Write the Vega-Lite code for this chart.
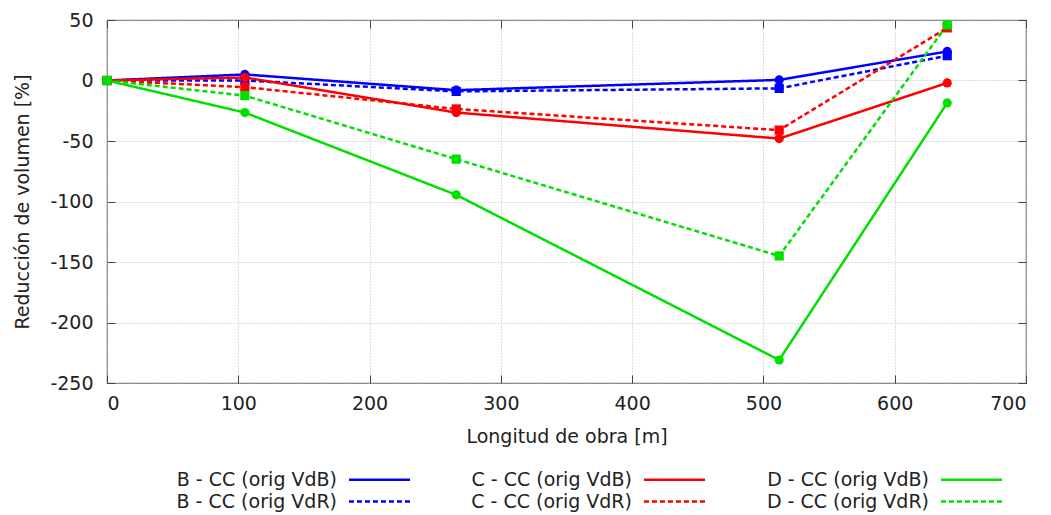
{
  "$schema": "https://vega.github.io/schema/vega-lite/v6.json",
  "width": 919,
  "height": 363,
  "autosize": {"type": "none"},
  "padding": {"left": 107, "top": 20, "right": 25, "bottom": 132},
  "background": "white",
  "config": {
    "font": "DejaVu Sans",
    "view": {"stroke": "#777777", "strokeWidth": 1.2},
    "axis": {
      "labelFont": "DejaVu Sans",
      "titleFont": "DejaVu Sans",
      "labelFontSize": 19,
      "titleFontSize": 19,
      "labelColor": "#222222",
      "titleColor": "#222222",
      "titleFontWeight": "normal",
      "labelOverlap": false,
      "labelExpr": "datum.value + ''",
      "domain": false,
      "tickColor": "#444444",
      "tickSize": -8,
      "gridColor": "#bbbbbb",
      "gridDash": [1, 2],
      "gridWidth": 1
    },
    "legend": {
      "labelFont": "DejaVu Sans",
      "labelFontSize": 19,
      "labelColor": "#222222"
    }
  },
  "data": {
    "values": [
      {"x": 0, "y": 0, "series": "B - CC (orig VdB)", "orig": "VdB"},
      {"x": 105, "y": 5, "series": "B - CC (orig VdB)", "orig": "VdB"},
      {"x": 266, "y": -8, "series": "B - CC (orig VdB)", "orig": "VdB"},
      {"x": 512, "y": 0.5, "series": "B - CC (orig VdB)", "orig": "VdB"},
      {"x": 640, "y": 24, "series": "B - CC (orig VdB)", "orig": "VdB"},
      {"x": 0, "y": 0, "series": "B - CC (orig VdR)", "orig": "VdR"},
      {"x": 105, "y": 0, "series": "B - CC (orig VdR)", "orig": "VdR"},
      {"x": 266, "y": -9, "series": "B - CC (orig VdR)", "orig": "VdR"},
      {"x": 512, "y": -6.5, "series": "B - CC (orig VdR)", "orig": "VdR"},
      {"x": 640, "y": 20.5, "series": "B - CC (orig VdR)", "orig": "VdR"},
      {"x": 0, "y": 0, "series": "C - CC (orig VdB)", "orig": "VdB"},
      {"x": 105, "y": 2.5, "series": "C - CC (orig VdB)", "orig": "VdB"},
      {"x": 266, "y": -26.5, "series": "C - CC (orig VdB)", "orig": "VdB"},
      {"x": 512, "y": -48, "series": "C - CC (orig VdB)", "orig": "VdB"},
      {"x": 640, "y": -2, "series": "C - CC (orig VdB)", "orig": "VdB"},
      {"x": 0, "y": 0, "series": "C - CC (orig VdR)", "orig": "VdR"},
      {"x": 105, "y": -5.5, "series": "C - CC (orig VdR)", "orig": "VdR"},
      {"x": 266, "y": -23.5, "series": "C - CC (orig VdR)", "orig": "VdR"},
      {"x": 512, "y": -41, "series": "C - CC (orig VdR)", "orig": "VdR"},
      {"x": 640, "y": 43.5, "series": "C - CC (orig VdR)", "orig": "VdR"},
      {"x": 0, "y": 0, "series": "D - CC (orig VdB)", "orig": "VdB"},
      {"x": 105, "y": -26.5, "series": "D - CC (orig VdB)", "orig": "VdB"},
      {"x": 266, "y": -94.5, "series": "D - CC (orig VdB)", "orig": "VdB"},
      {"x": 512, "y": -231, "series": "D - CC (orig VdB)", "orig": "VdB"},
      {"x": 640, "y": -18.5, "series": "D - CC (orig VdB)", "orig": "VdB"},
      {"x": 0, "y": 0, "series": "D - CC (orig VdR)", "orig": "VdR"},
      {"x": 105, "y": -12.5, "series": "D - CC (orig VdR)", "orig": "VdR"},
      {"x": 266, "y": -65, "series": "D - CC (orig VdR)", "orig": "VdR"},
      {"x": 512, "y": -145, "series": "D - CC (orig VdR)", "orig": "VdR"},
      {"x": 640, "y": 46, "series": "D - CC (orig VdR)", "orig": "VdR"}
    ]
  },
  "layer": [
    {
      "mark": {"type": "line", "strokeWidth": 2.5},
      "encoding": {
        "x": {
          "field": "x", "type": "quantitative",
          "scale": {"domain": [0, 700], "nice": false, "zero": false},
          "axis": {"values": [0, 100, 200, 300, 400, 500, 600, 700], "title": "Longitud de obra [m]", "labelPadding": 19, "titlePadding": 14}
        },
        "y": {
          "field": "y", "type": "quantitative",
          "scale": {"domain": [-250, 50], "nice": false, "zero": false},
          "axis": {"values": [-250, -200, -150, -100, -50, 0, 50], "title": "Reducción de volumen [%]", "labelPadding": 22, "titlePadding": 17}
        },
        "color": {
          "field": "series", "type": "nominal",
          "scale": {
            "domain": ["B - CC (orig VdB)", "B - CC (orig VdR)", "C - CC (orig VdB)", "C - CC (orig VdR)", "D - CC (orig VdB)", "D - CC (orig VdR)"],
            "range": ["#0000ff", "#0000ff", "#ff0000", "#ff0000", "#00e000", "#00e000"]
          },
          "legend": {
            "title": null,
            "orient": "none",
            "legendX": 263,
            "legendY": 450,
            "columns": 3,
            "columnPadding": 55,
            "rowPadding": 2,
            "symbolType": "M-5,0H5",
            "symbolSize": 149,
            "symbolStrokeWidth": 2.5,
            "labelAlign": "right",
            "labelOffset": -52,
            "labelLimit": 300
          }
        },
        "strokeDash": {
          "field": "series", "type": "nominal",
          "scale": {
            "domain": ["B - CC (orig VdB)", "B - CC (orig VdR)", "C - CC (orig VdB)", "C - CC (orig VdR)", "D - CC (orig VdB)", "D - CC (orig VdR)"],
            "range": [[1, 0], [5, 3], [1, 0], [5, 3], [1, 0], [5, 3]]
          }
        }
      }
    },
    {
      "mark": {"type": "point", "filled": true, "opacity": 1, "size": 85},
      "encoding": {
        "x": {"field": "x", "type": "quantitative", "axis": {"orient": "top", "labels": false, "title": null, "grid": false, "values": [0, 100, 200, 300, 400, 500, 600, 700]}},
        "y": {"field": "y", "type": "quantitative", "axis": {"orient": "right", "labels": false, "title": null, "grid": false, "values": [-250, -200, -150, -100, -50, 0, 50]}},
        "color": {"field": "series", "type": "nominal", "legend": null},
        "shape": {
          "field": "orig", "type": "nominal",
          "scale": {"domain": ["VdB", "VdR"], "range": ["circle", "square"]},
          "legend": null
        }
      }
    }
  ],
  "resolve": {"axis": {"x": "independent", "y": "independent"}}
}
